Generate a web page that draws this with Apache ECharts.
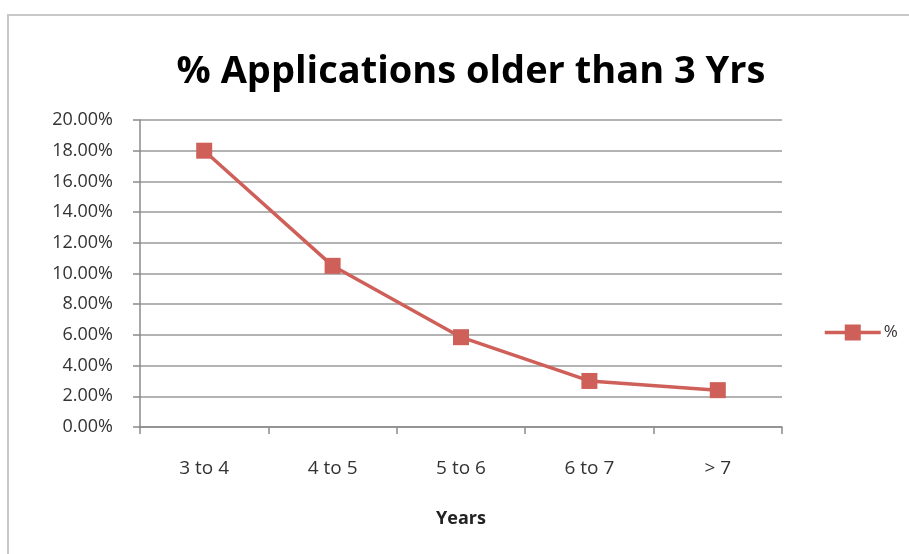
<!DOCTYPE html>
<html>
<head>
<meta charset="utf-8">
<script src="https://cdn.jsdelivr.net/npm/echarts@6/dist/echarts.min.js"></script>
<style>
html,body{margin:0;padding:0;background:#fff;}
#frame{position:absolute;left:7px;top:14px;width:920px;height:560px;border-left:2px solid #c8c8c8;border-top:2px solid #c8c8c8;}
#chart{position:absolute;left:0;top:0;width:909px;height:554px;}
</style>
</head>
<body>
<div id="frame"></div>
<div id="chart"></div>
<script>
var categories = ["3 to 4", "4 to 5", "5 to 6", "6 to 7", "> 7"];
var values = [0.18, 0.105, 0.0585, 0.030, 0.024];
var seriesName = "%";
var titleText = "% Applications older than 3 Yrs";
var xAxisName = "Years";

var chart = echarts.init(document.getElementById('chart'));
chart.setOption({
  backgroundColor: 'transparent',
  animation: false,
  title: {
    text: titleText,
    left: 466, top: 48, textAlign: 'center',
    textStyle: {fontFamily: 'Open Sans', fontWeight: 'bold', fontSize: 38, color: '#000'}
  },
  legend: {
    data: [seriesName],
    left: 818, top: 319,
    itemWidth: 56, itemHeight: 20, itemGap: 4,
    lineStyle: {width: 3.5},
    textStyle: {fontFamily: 'Open Sans', fontSize: 17, color: '#333', padding: [0,0,0,-2]}
  },
  grid: {left: 140, right: 127, top: 120, bottom: 127, containLabel: false},
  xAxis: {
    type: 'category',
    data: categories,
    boundaryGap: true,
    name: xAxisName,
    nameLocation: 'middle',
    nameGap: 83,
    nameTextStyle: {fontFamily: 'Open Sans', fontWeight: 'bold', fontSize: 18, color: '#222'},
    axisLine: {lineStyle: {color: '#8a8a8a', width: 1.5}},
    axisTick: {show: true, alignWithLabel: false, length: 7, lineStyle: {color: '#8a8a8a', width: 1.5}},
    axisLabel: {margin: 32, fontFamily: 'Open Sans', fontSize: 19, color: '#333'}
  },
  yAxis: {
    type: 'value',
    min: 0, max: 0.2, interval: 0.02,
    axisLine: {show: true, lineStyle: {color: '#8a8a8a', width: 1.5}},
    axisTick: {show: true, length: 7, lineStyle: {color: '#8a8a8a', width: 1.5}},
    splitLine: {lineStyle: {color: '#9a9a9a', width: 1.5}},
    axisLabel: {
      margin: 27, fontFamily: 'Open Sans', fontSize: 18, color: '#333',
      formatter: function (v) { return (v * 100).toFixed(2) + '%'; }
    }
  },
  series: [{
    name: seriesName,
    type: 'line',
    data: values,
    symbol: 'rect',
    symbolSize: 16,
    itemStyle: {color: '#cf5f59'},
    lineStyle: {color: '#cf5f59', width: 3.5}
  }]
});
</script>
</body>
</html>
